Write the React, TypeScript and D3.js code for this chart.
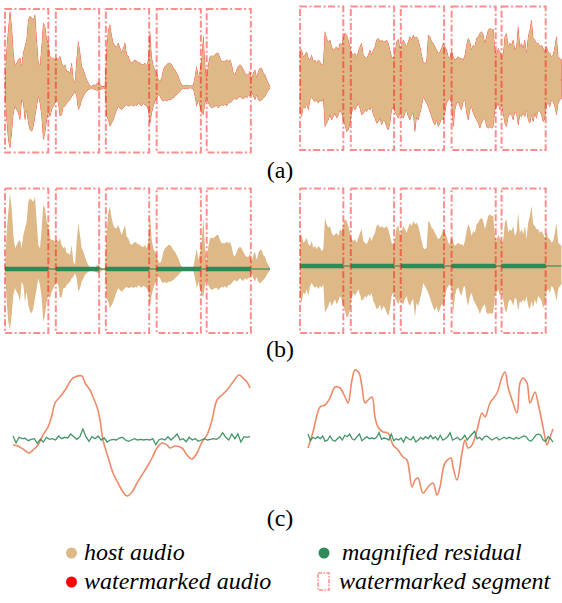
import React from "react";
import * as d3 from "d3";

// host audio envelopes, peak amplitude per frame (upper = positive peak, lower = negative peak)
const speechUpper = [
  0, 112, 172, 227, 182, 102, 62, 72, 82, 87,
  62, 102, 122, 142, 202, 212, 207, 202, 217, 142,
  72, 62, 122, 192, 182, 142, 132, 92, 87, 87,
  82, 87, 82, 92, 72, 62, 67, 47, 47, 42,
  72, 22, 12, 82, 137, 102, 62, 52, 37, 22,
  12, 4, 2, 7, 4, 10, 14, 7, 2, 0,
  4, 112, 172, 187, 152, 132, 122, 122, 132, 117,
  102, 117, 132, 97, 92, 77, 72, 77, 82, 77,
  74, 72, 67, 67, 72, 62, 82, 162, 87, 62,
  52, 42, 22, 17, 27, 52, 62, 67, 72, 72,
  67, 57, 52, 42, 32, 17, 7, 4, 4, 6,
  4, 4, 4, 6, 32, 62, 27, 47, 82, 152,
  62, 22, 67, 92, 94, 92, 97, 102, 102, 87,
  77, 77, 77, 82, 77, 82, 67, 42, 37, 52,
  62, 67, 62, 52, 42, 37, 37, 47, 22, 42,
  52, 27, 47, 57, 57, 42, 37, 22, 12, 2,
];
const speechLower = [
  0, -98, -158, -183, -138, -78, -58, -68, -78, -98,
  -38, -48, -98, -68, -108, -128, -133, -118, -88, -58,
  -28, -48, -88, -158, -138, -98, -78, -88, -68, -58,
  -48, -38, -48, -88, -83, -58, -58, -48, -43, -38,
  -28, -23, -13, -28, -68, -58, -38, -28, -18, -13,
  -8, -6, -3, -6, -8, -10, -13, -8, -6, -3,
  -6, -88, -98, -118, -108, -98, -83, -68, -58, -63,
  -68, -63, -58, -53, -58, -56, -53, -58, -53, -56,
  -48, -53, -56, -50, -53, -58, -68, -108, -78, -58,
  -43, -33, -23, -28, -38, -43, -38, -43, -38, -38,
  -36, -33, -28, -23, -18, -13, -6, -4, -5, -6,
  -4, -3, -4, -6, -28, -58, -38, -58, -78, -83,
  -48, -28, -48, -58, -63, -60, -58, -56, -63, -58,
  -53, -56, -50, -58, -48, -48, -43, -36, -33, -38,
  -33, -28, -33, -36, -28, -33, -26, -28, -13, -28,
  -38, -23, -38, -43, -38, -33, -28, -18, -10, -3,
];
const musicUpper = [
  95, 90, 70, 75, 85, 65, 60, 75, 55, 60,
  50, 60, 55, 45, 50, 145, 125, 115, 120, 100,
  90, 95, 100, 90, 110, 105, 125, 140, 135, 120,
  100, 80, 75, 80, 70, 85, 100, 110, 75, 70,
  65, 75, 90, 75, 90, 100, 120, 125, 115, 120,
  115, 115, 120, 110, 90, 70, 65, 80, 115, 122,
  95, 105, 120, 110, 100, 115, 130, 120, 135, 125,
  130, 120, 100, 75, 55, 50, 55, 135, 130, 115,
  110, 100, 90, 80, 85, 95, 110, 100, 90, 70,
  65, 90, 70, 60, 65, 70, 65, 65, 60, 75,
  105, 125, 115, 90, 105, 100, 125, 130, 140, 145,
  135, 110, 130, 150, 155, 150, 152, 90, 75, 95,
  85, 70, 75, 130, 140, 100, 110, 105, 120, 90,
  100, 160, 100, 110, 95, 120, 80, 130, 150, 180,
  125, 120, 110, 110, 100, 105, 95, 85, 100, 85,
  80, 70, 75, 100, 130, 70, 65, 60,
];
const musicLower = [
  -90, -110, -80, -85, -70, -90, -60, -50, -60, -65,
  -60, -70, -60, -65, -55, -140, -130, -120, -105, -120,
  -110, -100, -115, -105, -90, -100, -120, -135, -155, -150,
  -130, -100, -80, -90, -80, -70, -85, -105, -100, -90,
  -95, -85, -90, -80, -105, -115, -130, -125, -115, -135,
  -120, -125, -140, -150, -130, -90, -80, -95, -105, -115,
  -100, -110, -115, -100, -90, -110, -120, -105, -100, -155,
  -110, -120, -100, -80, -50, -60, -70, -80, -95, -110,
  -125, -135, -120, -140, -130, -115, -120, -100, -70, -60,
  -55, -70, -140, -90, -70, -65, -80, -90, -65, -60,
  -100, -120, -90, -80, -100, -110, -120, -130, -145, -130,
  -120, -115, -140, -145, -140, -145, -140, -90, -80, -70,
  -90, -75, -100, -130, -140, -110, -100, -105, -120, -95,
  -100, -135, -105, -110, -100, -110, -90, -120, -130, -105,
  -125, -100, -115, -90, -95, -105, -125, -115, -75, -70,
  -80, -60, -65, -80, -105, -70, -60, -55,
];

// watermarked segments, start/end frame
const segments: [number, number][] = [
  [0, 26], [30.5, 56.5], [60.5, 86.5], [91, 117.5], [121, 147.5],
];

// (c) zoomed waveform: [sample, amplitude]
const speechZoom: [number, number][] = [
  [0, -5], [5, -6], [10, -9], [16, -13], [20, -10], [25, -5], [30, 5], [35, 13], [39, 25], [42, 37],
  [46, 42], [50, 47], [54, 53], [58, 60], [62, 63], [69, 64], [72, 57], [77, 50], [80, 43], [84, 33],
  [87, 20], [90, 0], [95, -17], [100, -33], [105, -43], [110, -52], [114, -56], [119, -52], [124, -43], [129, -35],
  [134, -27], [139, -18], [144, -8], [149, -3], [154, -5], [157, -8], [162, -6], [169, -8], [174, -15], [179, -19],
  [184, -13], [189, -2], [194, 5], [199, 20], [204, 40], [209, 45], [214, 50], [220, 58], [226, 65], [230, 62],
  [234, 58], [237, 52],
];
const musicZoom: [number, number][] = [
  [0, -8], [5, 8], [12, 33], [17, 35], [22, 42], [27, 53], [32, 52], [37, 43], [40, 37], [44, 60],
  [47, 70], [51, 67], [54, 53], [57, 37], [60, 40], [64, 43], [67, 23], [70, 13], [75, 8], [80, 7],
  [85, -5], [90, -10], [95, -17], [99, -20], [104, -47], [107, -40], [110, -38], [115, -53], [120, -47], [125, -43],
  [129, -55], [132, -47], [137, -23], [143, -18], [145, -27], [149, -40], [154, -13], [157, 0], [160, -8], [164, -5],
  [169, 10], [174, 27], [177, 23], [182, 37], [189, 47], [194, 63], [197, 68], [200, 53], [205, 37], [209, 27],
  [212, 57], [215, 62], [219, 57], [222, 37], [227, 48], [230, 37], [235, 13], [239, -5], [241, 0], [245, 11],
];
const speechResidual = [
  4, -2.7, 2.7, 1.3, 1.7, -0.7, 0.7, 1.3, -3.3, 0.7, -2, 2.7, 0.7, 1.3, 0, 4, 1.3, 2.7, 2, 6,
  3.3, 0.7, 3.3, 11, 3.3, -1.3, 3.3, 1.3, 4, 0, 2, -2, 0, 0.7, 0, 2, 2.7, 0, -1.3, 0,
  1.3, 0, 0.7, 0, 0.7, 0, 1.3, -4.7, 0, 1.3, 0, 3.3, 0, 2.7, 6, 0, 1.3, -1.7, 2.7, 0,
  1.3, -1.3, 0, 1.3, 0, 0.7, 1.3, 0.7, 2.7, 7.3, 2.7, 0, 6, 1.3, 6, -2, 3.3, 2.7, 3.3,
];
const musicResidual = [
  6, -0.7, 2.7, 1.3, 3.3, 1.3, 4, -1.3, 0, 4, 0, -1.3, 1.3, 3.3, 0, 4.7, 3.3, 6, 1.3, 0,
  3.3, 6, -0.7, 1.3, 3.3, 1.3, 2, 1.3, 2.7, 7.3, 0.7, 2, 1.3, 0, 6, -0.7, 1.3, 0, 2, -2,
  3.3, 1.3, 0, 3.3, -2, 0, 2.7, 0.7, 3.3, 1.3, 4.7, 1.3, 3.3, 0, 4.7, 0, 1.3, 3.3, 7.3, 0,
  1.3, 2.7, 0, 1.3, 4.7, 0, 3.3, 6, 8.7, 1.3, 2.7, 0, 3.3, 4, 2, 0, 1.3, 2.7, 0, 1.3,
  2.7, 1.3, 2.7, 2, 0.7, 2.7, 1.3, 2.7, 4, 3.3, 0, -1.3, 1.3, 4.7, 6, 4.7, 0, -1.3, 3.3, 1.3, -2,
];

const panelLabels = ["(a)", "(b)", "(c)"];
const legendLabels = ["host audio", "watermarked audio", "magnified residual", "watermarked segment"];

const TAN = "#deb887";
const RED = "#ff0000";
const GREEN = "#2e8b57";
const ORANGE = "#ee8a68";
const FONT = "'Liberation Serif', 'DejaVu Serif', serif";
const DASH = "7,2.5,2,2.5";

type WaveProps = {
  upper: number[];
  lower: number[];
  x0: number;
  x1: number;
  cy: number;
  top: number;
  bottom: number;
  residual?: boolean;
};

const Wave = ({ upper, lower, x0, x1, cy, top, bottom, residual }: WaveProps) => {
  const x = d3.scaleLinear().domain([0, upper.length - 1]).range([x0, x1]);
  const y = d3.scaleLinear().domain([-240, 240]).range([cy + 80, cy - 80]);
  const area = d3.area<number>().x((_, i) => x(i)).y0(y(0)).y1(d => y(d));
  const up = area(upper) || "";
  const lo = area(lower) || "";

  return (
    <g>
      {!residual && (
        <g>
          <path d={up} fill={RED} stroke={RED} strokeWidth={0.8} strokeOpacity={0.3} />
          <path d={lo} fill={RED} stroke={RED} strokeWidth={0.8} strokeOpacity={0.3} />
          <line x1={x0} x2={x1} y1={y(0)} y2={y(0)} stroke={RED} strokeWidth={1} />
        </g>
      )}
      <path d={up} fill={TAN} />
      <path d={lo} fill={TAN} />
      {residual && (
        <g>
          <line x1={x0} x2={x1} y1={y(0)} y2={y(0)} stroke={GREEN} strokeOpacity={0.75} strokeWidth={1.5} />
          {segments.map(([s0, s1], i) => (
            <line key={i} x1={x(s0)} x2={x(s1)} y1={y(0)} y2={y(0)} stroke={GREEN} strokeWidth={4.5} />
          ))}
        </g>
      )}
      {segments.map(([s0, s1], i) => (
        <rect
          key={i}
          x={x(s0)}
          y={top}
          width={x(s1) - x(s0)}
          height={bottom - top}
          fill="none"
          stroke={RED}
          strokeOpacity={0.45}
          strokeWidth={2}
          strokeDasharray={DASH}
        />
      ))}
    </g>
  );
};

type ZoomProps = { signal: [number, number][]; residual: number[]; x0: number; x1: number; cy: number };

const Zoom = ({ signal, residual, x0, x1, cy }: ZoomProps) => {
  const tMax = d3.max(signal, d => d[0]) || 1;
  const x = d3.scaleLinear().domain([0, tMax]).range([x0, x1]);
  const xr = d3.scaleLinear().domain([0, residual.length - 1]).range([x0, x1]);
  const y = d3.scaleLinear().domain([-70, 70]).range([cy + 70, cy - 70]);
  const sigLine = d3.line<[number, number]>().x(d => x(d[0])).y(d => y(d[1])).curve(d3.curveCatmullRom);
  const resLine = d3.line<number>().x((_, i) => xr(i)).y(d => y(d));

  return (
    <g fill="none">
      <path d={sigLine(signal) || ""} stroke={ORANGE} strokeWidth={1.6} />
      <path d={resLine(residual) || ""} stroke={GREEN} strokeOpacity={0.9} strokeWidth={1.3} />
    </g>
  );
};

const textStyle = { fontFamily: FONT };
const legendStyle = { fontFamily: FONT, fontStyle: "italic" as const };

const App = () => {
  const labelY = [178, 357, 526];
  return (
    <svg width={562} height={603} style={{ position: "absolute", left: 0, top: 0 }}>
      <rect width={562} height={603} fill="#fff" />

      <Wave upper={speechUpper} lower={speechLower} x0={5} x1={270} cy={87} top={9} bottom={152.5} />
      <Wave upper={musicUpper} lower={musicLower} x0={300} x1={561.5} cy={80} top={6.5} bottom={150} />

      <Wave upper={speechUpper} lower={speechLower} x0={5} x1={270} cy={269} top={188.5} bottom={333} residual />
      <Wave upper={musicUpper} lower={musicLower} x0={300} x1={561.5} cy={266} top={188.5} bottom={333} residual />

      <Zoom signal={speechZoom} residual={speechResidual} x0={13} x1={250} cy={440} />
      <Zoom signal={musicZoom} residual={musicResidual} x0={308} x1={553} cy={440} />

      {panelLabels.map((t, i) => (
        <text key={t} x={280} y={labelY[i]} textAnchor="middle" fontSize={24} style={textStyle}>
          {t}
        </text>
      ))}

      <g fontSize={24}>
        <circle cx={71.5} cy={553} r={5.5} fill={TAN} />
        <text x={84} y={560} style={legendStyle}>{legendLabels[0]}</text>
        <circle cx={71.5} cy={582} r={5.5} fill={RED} />
        <text x={84} y={589} style={legendStyle}>{legendLabels[1]}</text>
        <circle cx={324} cy={553} r={5.5} fill={GREEN} />
        <text x={342} y={560} style={legendStyle}>{legendLabels[2]}</text>
        <rect x={318} y={573} width={11} height={17} fill="none" stroke={RED} strokeOpacity={0.45} strokeWidth={1.5} strokeDasharray="4,1.5,1.5,1.5" />
        <text x={339} y={589} style={legendStyle}>{legendLabels[3]}</text>
      </g>
    </svg>
  );
};

export default App;
